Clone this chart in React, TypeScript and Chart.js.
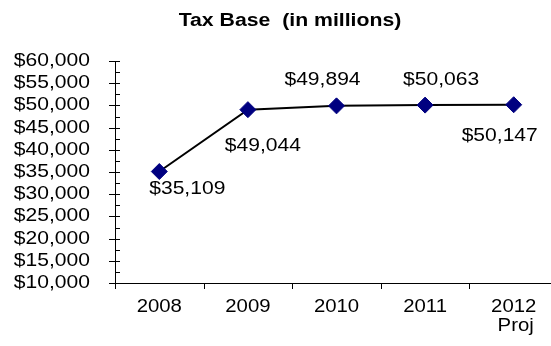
import React, { useEffect, useRef } from "react";
import { Chart, registerables } from "chart.js";

Chart.register(...registerables);

const categories = ["2008", "2009", "2010", "2011", "2012"];
const subLabels = ["", "", "", "", "Proj"];
const taxBase = [35109, 49044, 49894, 50063, 50147];
const dataLabels = ["$35,109", "$49,044", "$49,894", "$50,063", "$50,147"];
const yMin = 10000;
const yMax = 60000;
const yStep = 5000;

// label placement (style)
const labelOffsets = [
  [28, 18],
  [15, 36],
  [-14, -26],
  [16, -25],
  [-14, 31],
];

const FONT = "'Liberation Sans', Arial, sans-serif";
const SX = 1.17;

function drawText(ctx: CanvasRenderingContext2D, text: string, x: number, y: number, align: CanvasTextAlign, font: string, sx = SX) {
  ctx.save();
  ctx.translate(x, y);
  ctx.scale(sx, 1);
  ctx.font = font;
  ctx.textAlign = align;
  ctx.textBaseline = "middle";
  ctx.fillStyle = "#000";
  ctx.fillText(text, 0, 0);
  ctx.restore();
}

const fmt = (v: number) => "$" + v.toLocaleString("en-US");

const overlay = {
  id: "overlay",
  afterDraw(chart: any) {
    const ctx = chart.ctx as CanvasRenderingContext2D;
    const x = chart.scales.x;
    const y = chart.scales.y;
    const area = chart.chartArea;
    ctx.save();
    ctx.strokeStyle = "#000";
    ctx.lineWidth = 1;
    // y ticks
    for (let v = yMin; v <= yMax; v += yStep / 2) {
      const py = Math.round(y.getPixelForValue(v)) + 0.5;
      const major = (v - yMin) % yStep === 0;
      ctx.beginPath();
      ctx.moveTo(major ? area.left - 6 : area.left, py);
      ctx.lineTo(area.left + 5, py);
      ctx.stroke();
      if (major) drawText(ctx, fmt(v), area.left - 25, py, "right", `18px ${FONT}`);
    }
    // x ticks
    const n = categories.length;
    const half = (x.getPixelForValue(1) - x.getPixelForValue(0)) / 2;
    for (let i = 0; i < n; i++) {
      const px = Math.round(x.getPixelForValue(i) - half) + 0.5;
      ctx.beginPath();
      ctx.moveTo(px, area.bottom);
      ctx.lineTo(px, area.bottom + 6);
      ctx.stroke();
      const cx = x.getPixelForValue(i);
      drawText(ctx, categories[i], cx, area.bottom + 24, "center", `18px ${FONT}`, 1.13);
      if (subLabels[i]) drawText(ctx, subLabels[i], cx + 2, area.bottom + 43, "center", `18px ${FONT}`, 1.13);
    }
    // data labels
    const meta = chart.getDatasetMeta(0);
    meta.data.forEach((pt: any, i: number) => {
      const [dx, dy] = labelOffsets[i];
      drawText(ctx, dataLabels[i], pt.x + dx, pt.y + dy, "center", `18px ${FONT}`);
    });
    // title
    drawText(ctx, "Tax Base  (in millions)", 290, 21, "center", `bold 18px ${FONT}`, 1.18);
    ctx.restore();
  },
};

export default function App() {
  const ref = useRef<HTMLCanvasElement>(null);
  useEffect(() => {
    if (!ref.current) return;
    const chart = new Chart(ref.current, {
      type: "line",
      data: {
        labels: categories,
        datasets: [
          {
            data: taxBase,
            borderColor: "#000",
            borderWidth: 2,
            pointStyle: "rectRot",
            pointRadius: 8,
            pointBackgroundColor: "#000080",
            pointBorderColor: "#000080",
            pointBorderWidth: 1,
            tension: 0,
          },
        ],
      },
      options: {
        responsive: false,
        animation: false,
        events: [],
        layout: { padding: { top: 61, right: 0, left: 0, bottom: 0 } },
        plugins: { legend: { display: false }, title: { display: false }, tooltip: { enabled: false } },
        scales: {
          x: {
            type: "category",
            offset: true,
            grid: { display: false, offset: true },
            border: { display: true, color: "#000", width: 1 },
            ticks: { display: false },
            afterFit: (s: any) => { s.height = 63; },
          },
          y: {
            min: yMin,
            max: yMax,
            grid: { display: false },
            border: { display: true, color: "#000", width: 1 },
            ticks: { display: false, stepSize: yStep },
            afterFit: (s: any) => { s.width = 115; },
          },
        },
      },
      plugins: [overlay],
    });
    return () => chart.destroy();
  }, []);
  return (
    <div style={{ position: "absolute", left: 0, top: 0, width: 551, height: 346, overflow: "hidden", background: "#fff" }}>
      <canvas
        ref={ref}
        width={567}
        height={346}
        style={{ display: "block", width: 567, height: 346 }}
      />
    </div>
  );
}
